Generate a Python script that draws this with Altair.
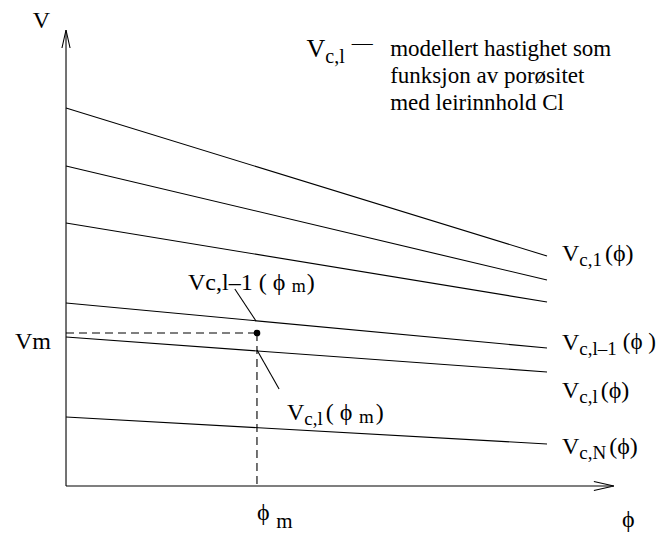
import altair as alt
import pandas as pd

# ---------------- data (phi, V in chart units) ----------------
line_ids = ["V_c,1", "V_c,2", "V_c,3", "V_c,l-1", "V_c,l", "V_c,N"]
phi_start = [0.0, 0.0, 0.0, 0.0, 0.0, 0.0]
phi_end = [1.0, 1.0, 1.0, 1.0, 1.0, 1.0]
v_start = [3.78, 3.20, 2.63, 1.83, 1.49, 0.69]
v_end = [2.30, 2.06, 1.84, 1.38, 1.14, 0.42]

phi_m = 0.397
v_m = 1.53

phi_axis_end = 1.139
v_axis_end = 4.56

leader_ids = ["upper", "lower"]
leader_phi_from = [0.351, 0.397]
leader_v_from = [1.97, 1.36]
leader_phi_to = [0.395, 0.443]
leader_v_to = [1.65, 0.97]

legend_lines = ["modellert hastighet som", "funksjon av porøsitet", "med leirinnhold Cl"]
legend_phi = 0.674
legend_v = [4.30, 4.03, 3.76]

X_DOMAIN = [-0.1206, 1.2328]
Y_DOMAIN = [-0.47, 4.78]
W, H = 651, 525
PX_PER_PHI = W / (X_DOMAIN[1] - X_DOMAIN[0])
PX_PER_V = H / (Y_DOMAIN[1] - Y_DOMAIN[0])

PHI = "ϕ"
# ---------------- label pieces: (text, font size, baseline shift px, gap before px) ----------------
label_anchor_phi = [-0.069, -0.106, 0.500, 1.031, 1.031, 1.031, 1.031, 0.2536, 0.4595, 0.397, 1.156]
label_anchor_v = [4.58, 1.37, 4.29, 2.25, 1.36, 0.88, 0.32, 1.96, 0.66, -0.34, -0.41]
label_parts = [
    [("V", 24, 0, 0)],
    [("Vm", 24, 0, 0)],
    [("V", 26, 0, 0), ("c,l", 20, 6, 0), ("—", 21, -7, 7)],
    [("V", 24, 0, 0), ("c,1", 19, 5, 0), ("(" + PHI + ")", 24, 0, 3)],
    [("V", 24, 0, 0), ("c,l–1", 19, 5, 0), ("(" + PHI + " )", 23, -1, 6)],
    [("V", 24, 0, 0), ("c,l", 19, 5, 0), ("(" + PHI + ")", 24, 0, 3)],
    [("V", 24, 0, 0), ("c,N", 19, 5, 0), ("(" + PHI + ")", 24, 0, 3)],
    [("Vc,l–1 ( " + PHI + " ", 24, 0, 0), ("m", 18, 2, 0), (")", 24, 0, 1)],
    [("V", 24, 0, 0), ("c,l", 19, 5, 0), ("( " + PHI + " ", 24, 0, 3), ("m", 19, 3, 0), (")", 24, 0, 2)],
    [(PHI, 24, 0, 0), ("m", 21, 8, 6)],
    [(PHI, 24, 0, 0)],
]

CHAR_W = {"V": 0.722, "c": 0.444, ",": 0.25, "1": 0.5, "l": 0.278, "–": 0.5, "N": 0.722,
          "(": 0.333, ")": 0.333, PHI: 0.55, " ": 0.25, "m": 0.778, "—": 1.0}


def text_width(s, fs):
    return sum(CHAR_W.get(ch, 0.5) for ch in s) * fs


# ---------------- build tables ----------------
lines_df = pd.DataFrame(
    [{"id": i, "k": 0, "phi": a, "V": b} for i, a, b in zip(line_ids, phi_start, v_start)]
    + [{"id": i, "k": 1, "phi": a, "V": b} for i, a, b in zip(line_ids, phi_end, v_end)]
)
axes_df = pd.DataFrame([
    {"id": "yaxis", "k": 0, "phi": 0.0, "V": 0.0},
    {"id": "yaxis", "k": 1, "phi": 0.0, "V": v_axis_end},
    {"id": "xaxis", "k": 0, "phi": 0.0, "V": 0.0},
    {"id": "xaxis", "k": 1, "phi": phi_axis_end, "V": 0.0},
])
leader_df = pd.DataFrame(
    [{"id": i, "k": 0, "phi": a, "V": b} for i, a, b in zip(leader_ids, leader_phi_from, leader_v_from)]
    + [{"id": i, "k": 1, "phi": a, "V": b} for i, a, b in zip(leader_ids, leader_phi_to, leader_v_to)]
)
dash_df = pd.DataFrame([
    {"id": "h", "k": 0, "phi": 0.0, "V": v_m},
    {"id": "h", "k": 1, "phi": phi_m, "V": v_m},
    {"id": "v", "k": 0, "phi": phi_m, "V": v_m},
    {"id": "v", "k": 1, "phi": phi_m, "V": 0.0},
])
dot_df = pd.DataFrame({"phi": [phi_m], "V": [v_m]})
arrow_df = pd.DataFrame({"phi": [0.0, phi_axis_end], "V": [v_axis_end, 0.0],
                         "ang": [0, 90], "sz": [324, 400]})

rows = []
for phi, v, parts in zip(label_anchor_phi, label_anchor_v, label_parts):
    dx = 0.0
    for text, fs, dy, gap in parts:
        dx += gap
        rows.append({"phi": phi + dx / PX_PER_PHI, "V": v - dy / PX_PER_V, "text": text, "fs": fs})
        dx += text_width(text, fs)
for txt, v in zip(legend_lines, legend_v):
    rows.append({"phi": legend_phi, "V": v, "text": txt, "fs": 23})
text_df = pd.DataFrame(rows)

X = alt.X("phi:Q", scale=alt.Scale(domain=X_DOMAIN, nice=False, zero=False), axis=None)
Y = alt.Y("V:Q", scale=alt.Scale(domain=Y_DOMAIN, nice=False, zero=False), axis=None)

seg = dict(x=X, y=Y, detail="id:N", order="k:Q")

lines = alt.Chart(lines_df).mark_line(color="black", strokeWidth=1.1).encode(**seg)
axes = alt.Chart(axes_df).mark_line(color="black", strokeWidth=1.1).encode(**seg)
leaders = alt.Chart(leader_df).mark_line(color="black", strokeWidth=1.1).encode(**seg)
dashes = alt.Chart(dash_df).mark_line(color="black", strokeWidth=1.1, strokeDash=[8, 5]).encode(**seg)
dot = alt.Chart(dot_df).mark_circle(color="black", opacity=1, size=45).encode(x=X, y=Y)
arrows = alt.Chart(arrow_df).mark_point(
    shape="M-0.45,2L0,0L0.45,2", filled=False, stroke="black", strokeWidth=1.1, opacity=1
).encode(
    x=X, y=Y,
    angle=alt.Angle("ang:Q", scale=None),
    size=alt.Size("sz:Q", scale=None),
)
texts = alt.Chart(text_df).mark_text(
    align="left", baseline="alphabetic", font="Liberation Serif, DejaVu Serif, serif", color="black"
).encode(
    x=X, y=Y,
    size=alt.Size("fs:Q", scale=None),
    text="text:N",
)

chart = alt.layer(lines, axes, leaders, dashes, dot, arrows, texts).properties(
    width=W, height=H, autosize=alt.AutoSizeParams(type="none"), padding=0,
    background="white",
).configure_view(stroke=None)

chart.save("out.html", embed_options={"renderer": "svg", "actions": False})
